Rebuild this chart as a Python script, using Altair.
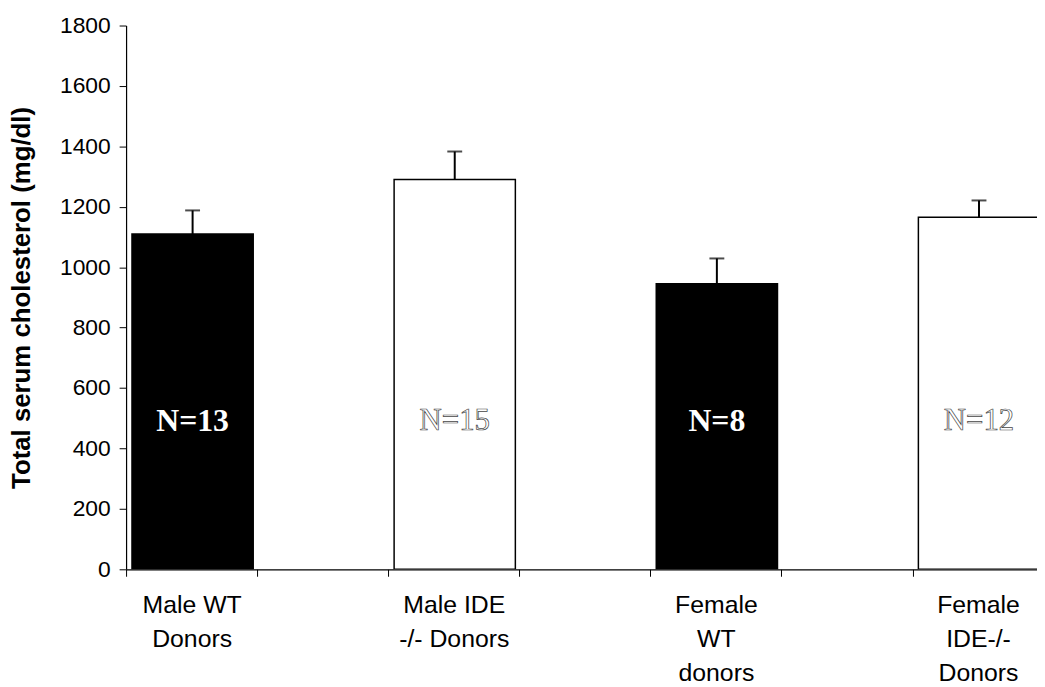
import altair as alt
import pandas as pd

# ---- data ----
categories = ["Male WT\nDonors", "Male IDE\n-/- Donors", "Female\nWT\ndonors", "Female\nIDE-/-\nDonors"]
means = [1110, 1290, 945, 1165]          # mg/dl
sems = [78, 93, 84, 56]                  # upper error bar length
n_labels = ["N=13", "N=15", "N=8", "N=12"]
genotype = ["WT", "IDE-/-", "WT", "IDE-/-"]
y_ticks = [0, 200, 400, 600, 800, 1000, 1200, 1400, 1600, 1800]

# ---- layout constants (not data) ----
N_LABEL_Y = 490
SLOTS_SHOWN = 6.95          # the original figure is cropped at the right edge
PLOT_W, PLOT_H = 918, 548
UNIT_PX = PLOT_W / SLOTS_SHOWN

rows = []
for i, c in enumerate(categories):
    slot = 2 * i
    rows.append({
        "category": c,
        "x0": slot + 0.045,
        "x1": slot + 0.97,
        "xc": slot + 0.5075,
        "mean": means[i],
        "upper": means[i] + sems[i],
        "n": n_labels[i],
        "genotype": genotype[i],
        "fill": "black" if genotype[i] == "WT" else "white",
    })
df = pd.DataFrame(rows)

label_arrays = ",".join(
    "[" + ",".join("'" + part + "'" for part in c.split("\n")) + "]" for c in categories
)
label_expr = f"datum.value % 2 == 0 ? [{label_arrays}][datum.value / 2] : ''"

xs = alt.Scale(domain=[0, SLOTS_SHOWN], nice=False, zero=False)
ys = alt.Scale(domain=[0, 1800], nice=False)

base = alt.Chart(df)

bars = base.mark_bar(stroke="black", strokeWidth=1.5, clip=True).encode(
    x=alt.X(
        "x0:Q", scale=xs,
        axis=alt.Axis(
            values=list(range(7)), title=None, grid=False,
            labelExpr=label_expr, labelOffset=UNIT_PX / 2,
            labelFlush=False, labelOverlap=False, labelBound=False,
            labelFont="Liberation Sans", labelFontSize=25, labelColor="black",
            labelLineHeight=34, labelPadding=17, labelAlign="center",
            tickSize=7, tickColor="black", tickWidth=1,
            domainColor="black", domainWidth=1.2,
        ),
    ),
    x2="x1:Q",
    y=alt.Y(
        "mean:Q", scale=ys,
        axis=alt.Axis(
            values=y_ticks, format="d", title="Total serum cholesterol (mg/dl)", grid=False,
            labelFont="Liberation Sans", labelFontSize=23, labelColor="black",
            labelPadding=9, tickSize=7, tickColor="black", tickWidth=1,
            domainColor="black", domainWidth=1.2,
            titleFont="Liberation Sans", titleFontSize=26, titleFontWeight="bold",
            titleColor="black", titlePadding=25,
        ),
    ),
    y2=alt.datum(0),
    fill=alt.Fill("fill:N", scale=None),
)

err = base.mark_rule(color="black", strokeWidth=2).encode(
    x="xc:Q", y="mean:Q", y2="upper:Q"
)
caps = base.mark_tick(color="black", orient="horizontal", size=15, thickness=2).encode(
    x="xc:Q", y="upper:Q"
)

n_black = base.transform_filter(alt.datum.genotype == "WT").mark_text(
    font="Liberation Serif", fontSize=32, fontWeight="bold", color="white",
    align="center", baseline="middle",
).encode(x="xc:Q", y=alt.datum(N_LABEL_Y), text="n:N")

n_white = base.transform_filter(alt.datum.genotype != "WT").mark_text(
    font="Liberation Serif", fontSize=31, fontWeight="normal", fill="white",
    stroke="#444444", strokeWidth=0.7, align="center", baseline="middle",
).encode(x="xc:Q", y=alt.datum(N_LABEL_Y), text="n:N")

chart = alt.layer(bars, err, caps, n_black, n_white).properties(
    width=PLOT_W, height=PLOT_H,
    autosize=alt.AutoSizeParams(type="none"),
    padding={"left": 119, "top": 15, "right": 0, "bottom": 124},
    background="white",
).configure_view(stroke=None)

chart.save("out.html", embed_options={"renderer": "svg", "actions": False})
